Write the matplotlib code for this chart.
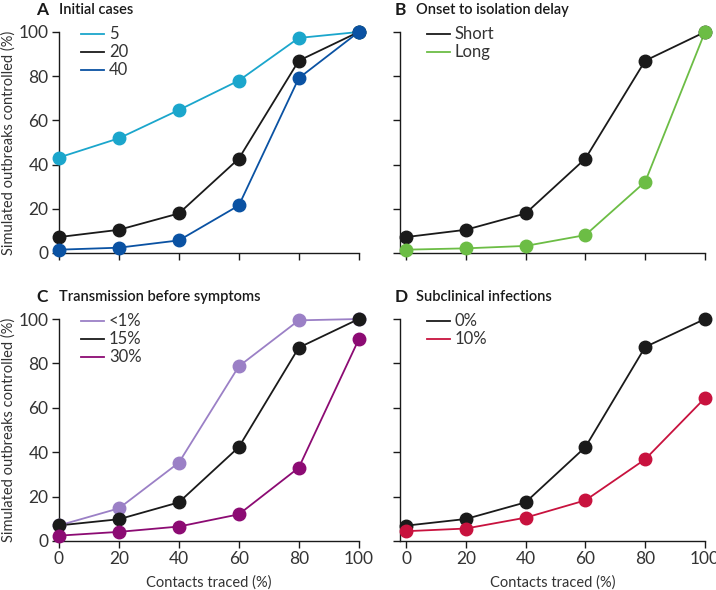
import numpy as np
import matplotlib
matplotlib.use("Agg")
import matplotlib.pyplot as plt

plt.rcParams['font.family'] = ['Lato', 'DejaVu Sans']

contacts = [0, 20, 40, 60, 80, 100]

# A - initial cases
a_labels = ["5", "20", "40"]
a_5 = [43.2, 51.9, 64.7, 78.0, 97.3, 100]
a_20 = [7.2, 10.5, 17.9, 42.7, 87.0, 100]
a_40 = [1.5, 2.4, 5.7, 21.5, 79.1, 100]

# B - onset to isolation delay
b_labels = ["Short", "Long"]
b_short = [7.2, 10.5, 17.9, 42.7, 87.0, 100]
b_long = [1.5, 2.1, 3.2, 8.1, 32.2, 100]

# C - transmission before symptoms
c_labels = ["<1%", "15%", "30%"]
c_1 = [7.0, 14.7, 35.3, 78.7, 99.4, 100]
c_15 = [7.0, 9.8, 17.4, 42.3, 87.1, 100]
c_30 = [2.4, 4.1, 6.5, 12.0, 33.0, 90.8]

# D - subclinical infections
d_labels = ["0%", "10%"]
d_0 = [6.9, 9.9, 17.4, 42.3, 87.4, 100]
d_10 = [4.4, 5.6, 10.5, 18.3, 36.8, 64.4]

black = "#1a1a1a"
grey = "#333333"
panels = [
    ("A", "Initial cases", [a_5, a_20, a_40], a_labels, ["#1ba6cc", black, "#0a52a3"]),
    ("B", "Onset to isolation delay", [b_short, b_long], b_labels, [black, "#6cbd45"]),
    ("C", "Transmission before symptoms", [c_1, c_15, c_30], c_labels, ["#9b80c6", black, "#8c0b73"]),
    ("D", "Subclinical infections", [d_0, d_10], d_labels, [black, "#c8123e"]),
]

fig = plt.figure(figsize=(7.16, 5.9), dpi=100)
boxes = [
    [0.0824, 0.5712, 0.4186, 0.3746],
    [0.5587, 0.5712, 0.4259, 0.3746],
    [0.0824, 0.0831, 0.4186, 0.3762],
    [0.5587, 0.0831, 0.4259, 0.3762],
]

for i, (letter, title, series, labels, colors) in enumerate(panels):
    ax = fig.add_axes(boxes[i])
    for ys, lab, c in zip(series, labels, colors):
        ax.plot(contacts, ys, color=c, lw=1.3, label=lab, clip_on=False, zorder=2)
        ax.plot(contacts, ys, 'o', color=c, ms=9, clip_on=False, zorder=3)
    right = i % 2 == 1
    ax.set_xlim(-2 if right else 0, 100)
    ax.set_ylim(0, 100)
    ax.set_xticks(contacts)
    ax.set_yticks([0, 20, 40, 60, 80, 100])
    for s in ["top", "right"]:
        ax.spines[s].set_visible(False)
    for s in ["left", "bottom"]:
        ax.spines[s].set_linewidth(1.0)
        ax.spines[s].set_color(black)
    ax.tick_params(direction="out", length=5, width=1.0, colors=black,
                   labelsize=12.5, labelcolor=grey, pad=2.5)
    if i < 2:
        ax.tick_params(labelbottom=False)
    else:
        ax.set_xlabel("Contacts traced (%)", fontsize=10.5, color=grey, labelpad=6)
    if right:
        ax.tick_params(labelleft=False)
    else:
        ax.set_ylabel("Simulated outbreaks controlled (%)", fontsize=10.5, color=grey, labelpad=2)
    leg = ax.legend(loc="upper left", bbox_to_anchor=(0.05 if not right else 0.065, 1.055),
                    frameon=False, fontsize=12, handlelength=1.4, handletextpad=0.3,
                    labelspacing=0.12, borderaxespad=0)
    for t in leg.get_texts():
        t.set_color(grey)
    ax.text(-0.075 if not right else -0.018, 1.10, letter, transform=ax.transAxes,
            fontsize=12.5, fontweight="bold", color=black, va="center", ha="left")
    ax.text(0.0 if not right else 0.052, 1.10, title, transform=ax.transAxes,
            fontsize=10.5, fontweight="semibold", color=black, va="center", ha="left")

fig.savefig("out.png", dpi=100)
